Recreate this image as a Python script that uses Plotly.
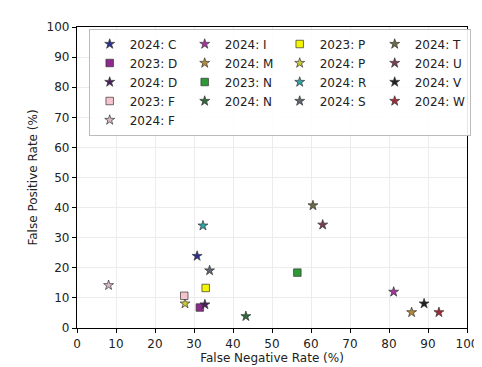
import plotly.graph_objects as go

# Legend (row-major order for plotly to reproduce column-major matplotlib legend)
labels = ["2024: C", "2024: I", "2023: P", "2024: T",
          "2023: D", "2024: M", "2024: P", "2024: U",
          "2024: D", "2023: N", "2024: R", "2024: V",
          "2023: F", "2024: N", "2024: S", "2024: W",
          "2024: F"]
fnr = [30.8, 81.2, 33.0, 60.5,
       31.5, 85.8, 27.7, 63.0,
       32.8, 56.5, 32.3, 89.0,
       27.5, 43.3, 34.0, 92.8,
       8.1]
fpr = [23.9, 12.0, 13.3, 40.7,
       6.8, 5.2, 8.1, 34.3,
       7.8, 18.4, 34.0, 8.1,
       10.7, 3.9, 19.1, 5.2,
       14.2]
colors = ["#2b2f8f", "#a3369e", "#f5f500", "#6c6a44",
          "#8e2a8e", "#b48a3a", "#c9c93a", "#7a3a52",
          "#4a1f5e", "#2e9a35", "#2fa3a8", "#1f1f24",
          "#f6c4cc", "#2f6a3c", "#5f6470", "#a52a35",
          "#d8b8c8"]
symbols = ["star" if l.startswith("2024") else "square" for l in labels]

x_ticks = list(range(0, 101, 10))
y_ticks = list(range(0, 101, 10))

fig = go.Figure()
for lab, xv, yv, c, s in zip(labels, fnr, fpr, colors, symbols):
    fig.add_trace(go.Scatter(
        x=[xv], y=[yv], mode="markers", name=lab,
        marker=dict(symbol=s, color=c, size=7.5 if s == "star" else 7.5,
                    line=dict(color="#333333", width=0.7)),
    ))

axis_common = dict(
    range=[0, 100], showgrid=True, gridcolor="#ececec", gridwidth=1,
    showline=True, linecolor="black", linewidth=1.2, mirror=True,
    ticks="outside", ticklen=4, tickcolor="black", zeroline=False,
    tickfont=dict(size=12, color="#222"),
)
fig.update_xaxes(**axis_common, tickvals=x_ticks,
                 title=dict(text="False Negative Rate (%)", font=dict(size=12, color="#222"), standoff=4))
fig.update_yaxes(**axis_common, tickvals=y_ticks,
                 title=dict(text="False Positive Rate (%)", font=dict(size=12, color="#222"), standoff=6))

fig.update_layout(
    width=482, height=367,
    margin=dict(l=69, r=16, t=12, b=46),
    plot_bgcolor="white", paper_bgcolor="white",
    font=dict(family="DejaVu Sans", size=12, color="#222"),
    legend=dict(
        orientation="h", x=0.03, y=0.995, xanchor="left", yanchor="top",
        bgcolor="rgba(255,255,255,0.9)", bordercolor="#bbbbbb", borderwidth=1,
        entrywidth=50, entrywidthmode="pixels", itemwidth=30,
        font=dict(size=12), tracegroupgap=0,
    ),
    showlegend=True,
)

fig.write_html("out.html")
